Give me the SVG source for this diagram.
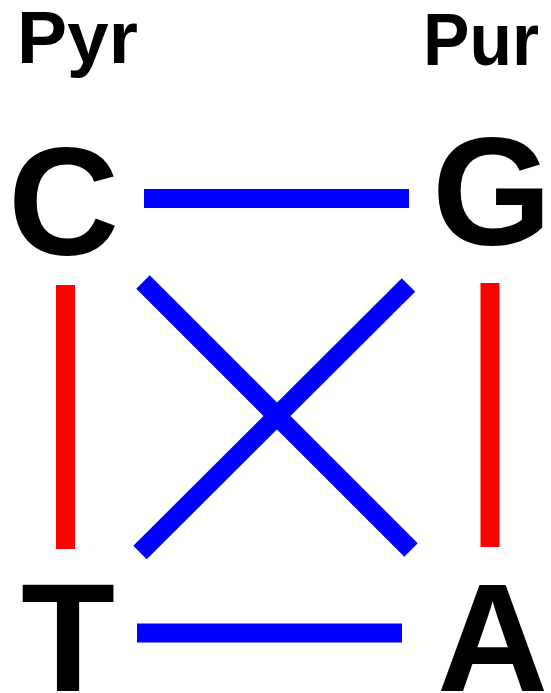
<svg xmlns="http://www.w3.org/2000/svg" width="551" height="693" viewBox="0 0 551 693">
<style>
.lbl{font-family:"Liberation Sans",Arial,sans-serif;font-weight:bold;fill:#000}
.small{font-size:75px}
.big{font-size:154px}
.blue{stroke:#0000ff;stroke-width:19;stroke-linecap:butt;fill:none}
.red{stroke:#ff0000;stroke-width:19;stroke-linecap:butt;fill:none}
</style>
<rect width="551" height="693" fill="#fff"/>
<g id="pyr"><text class="lbl small" x="17" y="63">Pyr</text></g>
<g id="pur"><text class="lbl small" x="423" y="65" textLength="116" lengthAdjust="spacingAndGlyphs">Pur</text></g>
<g id="C"><text class="lbl big" x="8" y="255">C</text></g>
<g id="G"><text class="lbl big" x="432" y="245">G</text></g>
<g id="T"><text class="lbl big" x="21" y="691">T</text></g>
<g id="A"><text class="lbl big" x="437" y="691">A</text></g>
<g id="connectors">
<line class="blue" x1="144" y1="198.5" x2="409" y2="198.5"/>
<line class="blue" x1="137" y1="633" x2="402" y2="633"/>
<line class="red" x1="65.5" y1="285" x2="65.5" y2="549"/>
<line class="red" x1="490" y1="283" x2="490" y2="547"/>
<line class="blue" x1="143" y1="282" x2="411" y2="550"/>
<line class="blue" x1="408.5" y1="285" x2="140" y2="552.5"/>
</g>
</svg>
